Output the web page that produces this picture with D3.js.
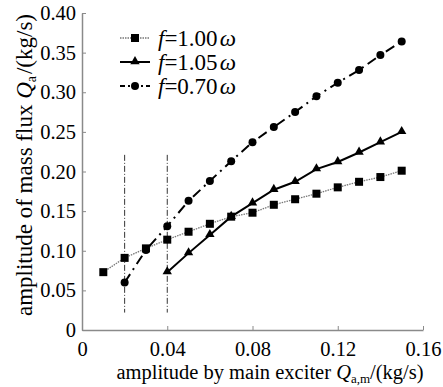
<!DOCTYPE html>
<html>
  <head>
    <meta charset="utf-8" />
    <title>mass flux amplitude</title>
    <style>
      body {
        margin: 0;
        background: #fff;
      }
      svg {
        font-family: "Liberation Serif", "Times New Roman", serif;
      }
    </style>
  </head>
  <body>
    <svg id="chart" width="443" height="387"></svg>
    <script src="https://d3js.org/d3.v7.min.js"></script>
    <script>
      const xTicks = [0, 0.04, 0.08, 0.12, 0.16];
      const xTickLabels = ["0", "0.04", "0.08", "0.12", "0.16"];
      const yTicks = [0, 0.05, 0.1, 0.15, 0.2, 0.25, 0.3, 0.35, 0.4];
      const yTickLabels = ["0", "0.05", "0.10", "0.15", "0.20", "0.25", "0.30", "0.35", "0.40"];

      // f = 1.00 omega
      const x100 = [0.01, 0.02, 0.03, 0.04, 0.05, 0.06, 0.07, 0.08, 0.09, 0.1, 0.11, 0.12, 0.13, 0.14, 0.15];
      const y100 = [0.073, 0.091, 0.103, 0.114, 0.124, 0.134, 0.143, 0.148, 0.158, 0.165, 0.172, 0.18, 0.187, 0.193, 0.201];
      // f = 1.05 omega
      const x105 = [0.04, 0.05, 0.06, 0.07, 0.08, 0.09, 0.1, 0.11, 0.12, 0.13, 0.14, 0.15];
      const y105 = [0.073, 0.097, 0.12, 0.143, 0.16, 0.177, 0.187, 0.203, 0.212, 0.224, 0.237, 0.25];
      // f = 0.70 omega
      const x070 = [0.02, 0.03, 0.04, 0.05, 0.06, 0.07, 0.08, 0.09, 0.1, 0.11, 0.12, 0.13, 0.14, 0.15];
      const y070 = [0.06, 0.101, 0.131, 0.163, 0.188, 0.213, 0.237, 0.256, 0.275, 0.295, 0.312, 0.328, 0.347, 0.364];

      // dash-dot guide lines
      const guideX = [0.02, 0.04];
      const guideY = [0.022, 0.221];

      const svg = d3.select("#chart");
      const x = d3.scaleLinear().domain([0, 0.16]).range([82, 423]);
      const y = d3.scaleLinear().domain([0, 0.4]).range([330, 13]);
      const axisColor = "#8a8a8a";
      const serif = "Liberation Serif, Times New Roman, serif";

      // axes
      const gx = svg
        .append("g")
        .attr("transform", "translate(0," + y(0) + ")")
        .call(
          d3.axisBottom(x).tickValues(xTicks).tickSizeInner(-4).tickSizeOuter(0).tickFormat((d, i) => xTickLabels[i])
        );
      gx.select(".domain").attr("stroke", axisColor).attr("stroke-width", 1.5);
      gx.selectAll(".tick line").attr("stroke", axisColor);
      gx.selectAll(".tick text")
        .attr("y", 11)
        .attr("dy", "0.71em")
        .attr("fill", "#000")
        .style("font-size", "20.5px")
        .style("font-family", serif);

      const gy = svg
        .append("g")
        .attr("transform", "translate(" + x(0) + ",0)")
        .call(
          d3.axisLeft(y).tickValues(yTicks).tickSizeInner(-4).tickSizeOuter(0).tickFormat((d, i) => yTickLabels[i])
        );
      gy.select(".domain").attr("stroke", axisColor).attr("stroke-width", 1.5);
      gy.selectAll(".tick line").attr("stroke", axisColor);
      gy.selectAll(".tick text")
        .attr("x", -6)
        .attr("fill", "#000")
        .style("font-size", "20.5px")
        .style("font-family", serif);

      // guides
      guideX.forEach(function (g) {
        svg
          .append("line")
          .attr("x1", x(g))
          .attr("x2", x(g))
          .attr("y1", y(guideY[1]))
          .attr("y2", y(guideY[0]))
          .attr("stroke", "#000")
          .attr("stroke-width", 0.8)
          .attr("stroke-dasharray", "6,2,1,2");
      });

      const line = d3
        .line()
        .x((d) => x(d[0]))
        .y((d) => y(d[1]));

      const series = [
        { xs: x100, ys: y100, stroke: "#777", width: 1.3, dash: "1.5,1", marker: "square" },
        { xs: x105, ys: y105, stroke: "#000", width: 2, dash: null, marker: "triangle" },
        { xs: x070, ys: y070, stroke: "#000", width: 2, dash: "10,5,2,5", marker: "circle" }
      ];

      function drawMarker(g, type, cx, cy) {
        if (type === "square") {
          g.append("rect").attr("x", cx - 4).attr("y", cy - 4).attr("width", 8).attr("height", 8).attr("fill", "#000");
        } else if (type === "triangle") {
          g.append("path")
            .attr("d", d3.symbol(d3.symbolTriangle, 38)())
            .attr("transform", "translate(" + cx + "," + (cy - 0.5) + ")")
            .attr("fill", "#000");
        } else {
          g.append("circle").attr("cx", cx).attr("cy", cy).attr("r", 4).attr("fill", "#000");
        }
      }

      series.forEach(function (s) {
        const pts = s.xs.map((v, i) => [v, s.ys[i]]);
        svg
          .append("path")
          .datum(pts)
          .attr("d", line)
          .attr("fill", "none")
          .attr("stroke", s.stroke)
          .attr("stroke-width", s.width)
          .attr("stroke-dasharray", s.dash);
        const g = svg.append("g");
        pts.forEach((p) => drawMarker(g, s.marker, x(p[0]), y(p[1])));
      });

      // legend
      const legendLabels = ["1.00", "1.05", "0.70"];
      const legend = svg.append("g");
      series.forEach(function (s, i) {
        const ly = 38 + i * 24;
        legend
          .append("line")
          .attr("x1", 120)
          .attr("x2", 150)
          .attr("y1", ly)
          .attr("y2", ly)
          .attr("stroke", s.stroke)
          .attr("stroke-width", s.width)
          .attr("stroke-dasharray", s.dash ? (i === 2 ? "5,3,2,3" : s.dash) : null);
        drawMarker(legend, s.marker, 135, ly);
        const t = legend
          .append("text")
          .attr("x", 158)
          .attr("y", ly + 8)
          .style("font-size", "23px");
        t.append("tspan").attr("font-style", "italic").text("f");
        t.append("tspan").text("=" + legendLabels[i]);
        t.append("tspan").attr("font-style", "italic").attr("dx", 2).text("ω");
      });

      // axis titles
      const xt = svg
        .append("text")
        .attr("x", 270)
        .attr("y", 379)
        .attr("text-anchor", "middle")
        .style("font-size", "20.5px");
      xt.append("tspan").text("amplitude by main exciter ");
      xt.append("tspan").attr("font-style", "italic").text("Q");
      xt.append("tspan").attr("dy", 4).style("font-size", "13px").text("a,m");
      xt.append("tspan").attr("dy", -4).text("/(kg/s)");

      const yt = svg
        .append("text")
        .attr("transform", "translate(32,165) rotate(-90)")
        .attr("text-anchor", "middle")
        .style("font-size", "23px");
      yt.append("tspan").text("amplitude of mass flux ");
      yt.append("tspan").attr("font-style", "italic").text("Q");
      yt.append("tspan").attr("dy", 4).style("font-size", "14px").text("a");
      yt.append("tspan").attr("dy", -4).attr("dx", 2).text("/(kg/s)");
    </script>
  </body>
</html>
